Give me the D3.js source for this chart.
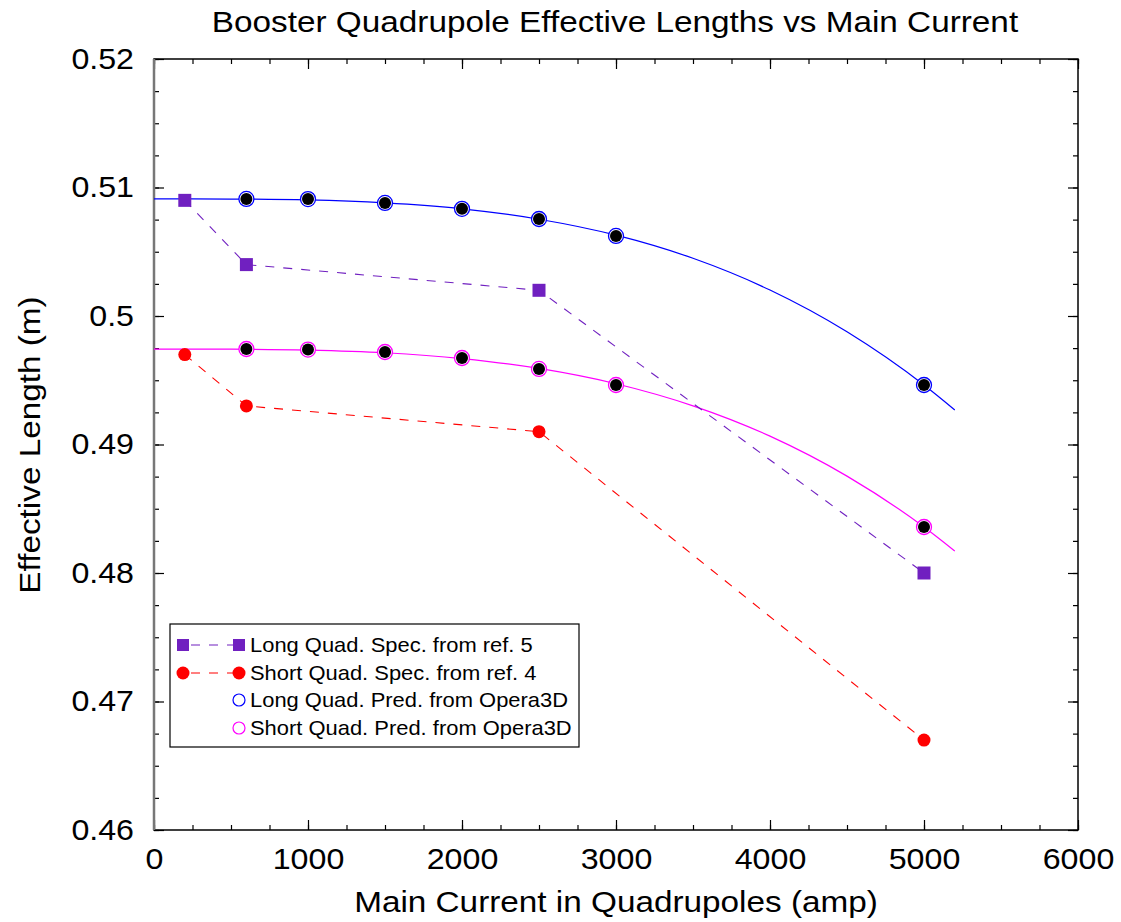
<!DOCTYPE html>
<html>
<head>
<meta charset="utf-8">
<script src="https://cdn.jsdelivr.net/npm/d3@7"></script>
<style>
  body { margin: 0; background: #fff; }
  svg text { font-family: "Liberation Sans", Arial, sans-serif; }
</style>
</head>
<body>
<div class="container"></div>
<script>
// measured series
const longSpecX = [200, 600, 2500, 5000];
const longSpecY = [0.5090, 0.5040, 0.5020, 0.4800];
const shortSpecX = [200, 600, 2500, 5000];
const shortSpecY = [0.4970, 0.4930, 0.4910, 0.4670];

const predX = [600, 1000, 1500, 2000, 2500, 3000, 5000];
const longPredY = [0.50911, 0.50910, 0.50880, 0.50834, 0.50755, 0.50623, 0.49463];
const shortPredY = [0.49743, 0.49739, 0.49720, 0.49673, 0.49588, 0.49463, 0.48358];

// fitted curves
const fitX = [0, 500, 1000, 1500, 2000, 2500, 3000, 3500, 4000, 4500, 5000, 5200];
const longFitY = [0.50911, 0.50910, 0.50903, 0.50880, 0.50834, 0.50753, 0.50629, 0.50449, 0.50202, 0.49877, 0.49463, 0.49269];
const shortFitY = [0.49743, 0.49742, 0.49735, 0.49714, 0.49669, 0.49592, 0.49473, 0.49301, 0.49065, 0.48754, 0.48358, 0.48171];

const xTicks = [0, 1000, 2000, 3000, 4000, 5000, 6000];
const yTicks = [0.46, 0.47, 0.48, 0.49, 0.5, 0.51, 0.52];
const legendLabels = ["Long Quad. Spec. from ref. 5", "Short Quad. Spec. from ref. 4",
                      "Long Quad. Pred. from Opera3D", "Short Quad. Pred. from Opera3D"];

const W = 1121, H = 922;
const margin = {top: 59, right: 43, bottom: 92, left: 154};
const width = W - margin.left - margin.right,
      height = H - margin.top - margin.bottom;

const purple = "#7020c0", red = "#ff0000", blue = "#0000ff", pink = "#ff00ff";
const stretch = 1.11; // the reference lettering is a little wider than Arial

const svg = d3.select(".container").append("svg")
    .attr("width", W).attr("height", H);

const chart = svg.append("g")
    .attr("transform", "translate(" + margin.left + "," + margin.top + ")");

const xScale = d3.scaleLinear().domain([0, 6000]).range([0, width]);
const yScale = d3.scaleLinear().domain([0.46, 0.52]).range([height, 0]);

// ticks, inward on all four sides
function tickAxis(axis, tr, major) {
  const g = chart.append("g").attr("transform", tr).call(axis);
  g.select(".domain").remove();
  g.selectAll(".tick line").attr("stroke", "#000").attr("stroke-width", 1.2);
  if (!major) g.selectAll("text").remove();
  return g;
}
const xMinor = d3.range(0, 6001, 250);
const yMinor = d3.range(0, 25).map(i => 0.46 + i * 0.0025);

tickAxis(d3.axisBottom(xScale).tickValues(xMinor).tickSize(-5).tickFormat(""), "translate(0," + height + ")");
tickAxis(d3.axisTop(xScale).tickValues(xMinor).tickSize(-5).tickFormat(""), "translate(0,0)");
tickAxis(d3.axisLeft(yScale).tickValues(yMinor).tickSize(-5).tickFormat(""), "translate(0,0)");
tickAxis(d3.axisRight(yScale).tickValues(yMinor).tickSize(-5).tickFormat(""), "translate(" + width + ",0)");

const xa = tickAxis(d3.axisBottom(xScale).tickValues(xTicks).tickSize(-10).tickPadding(18).tickFormat(d3.format("d")), "translate(0," + height + ")", true);
xa.selectAll("text").attr("font-size", "29px").attr("fill", "#000")
  .attr("font-family", "Liberation Sans, Arial, sans-serif")
  .attr("transform", "scale(" + stretch + ",1)");
tickAxis(d3.axisTop(xScale).tickValues(xTicks).tickSize(-10).tickFormat(""), "translate(0,0)");
const ya = tickAxis(d3.axisLeft(yScale).tickValues(yTicks).tickSize(-10).tickPadding(18).tickFormat(d => d3.format("")(+d.toFixed(2))), "translate(0,0)", true);
ya.selectAll("text").attr("font-size", "29px").attr("fill", "#000")
  .attr("font-family", "Liberation Sans, Arial, sans-serif")
  .attr("transform", "scale(" + stretch + ",1)");
tickAxis(d3.axisRight(yScale).tickValues(yTicks).tickSize(-10).tickFormat(""), "translate(" + width + ",0)");

// frame
chart.append("rect").attr("width", width).attr("height", height)
    .attr("fill", "none").attr("stroke", "#000").attr("stroke-width", 1.5);
chart.append("line").attr("x1", 0).attr("x2", 0).attr("y1", 0).attr("y2", height)
    .attr("stroke", "#777").attr("stroke-width", 2.5);

// fit curves
const fitLine = d3.line().curve(d3.curveMonotoneX)
    .x(d => xScale(d[0])).y(d => yScale(d[1]));
chart.append("path").datum(fitX.map((x, i) => [x, longFitY[i]]))
    .attr("d", fitLine).attr("fill", "none").attr("stroke", blue).attr("stroke-width", 1.2);
chart.append("path").datum(fitX.map((x, i) => [x, shortFitY[i]]))
    .attr("d", fitLine).attr("fill", "none").attr("stroke", pink).attr("stroke-width", 1.2);

// spec dashed lines
const segLine = d3.line().x(d => xScale(d[0])).y(d => yScale(d[1]));
chart.append("path").datum(longSpecX.map((x, i) => [x, longSpecY[i]]))
    .attr("d", segLine).attr("fill", "none").attr("stroke", purple)
    .attr("stroke-width", 1.1).attr("stroke-dasharray", "9,9");
chart.append("path").datum(shortSpecX.map((x, i) => [x, shortSpecY[i]]))
    .attr("d", segLine).attr("fill", "none").attr("stroke", red)
    .attr("stroke-width", 1.1).attr("stroke-dasharray", "9,9");

// prediction markers
function predMarks(ys, color) {
  const g = chart.append("g");
  g.selectAll("circle.ring").data(predX).enter().append("circle")
    .attr("class", "ring")
    .attr("cx", d => xScale(d)).attr("cy", (d, i) => yScale(ys[i]))
    .attr("r", 7.5).attr("fill", "#fff").attr("stroke", color).attr("stroke-width", 1.3);
  g.selectAll("circle.dot").data(predX).enter().append("circle")
    .attr("class", "dot")
    .attr("cx", d => xScale(d)).attr("cy", (d, i) => yScale(ys[i]))
    .attr("r", 6).attr("fill", "#000");
}
predMarks(longPredY, blue);
predMarks(shortPredY, pink);

// spec markers
chart.selectAll("rect.sq").data(longSpecX).enter().append("rect")
    .attr("class", "sq")
    .attr("x", d => xScale(d) - 6.5).attr("y", (d, i) => yScale(longSpecY[i]) - 6.5)
    .attr("width", 13).attr("height", 13).attr("fill", purple);
chart.selectAll("circle.rd").data(shortSpecX).enter().append("circle")
    .attr("class", "rd")
    .attr("cx", d => xScale(d)).attr("cy", (d, i) => yScale(shortSpecY[i]))
    .attr("r", 6.5).attr("fill", red);

// legend
const leg = svg.append("g").attr("transform", "translate(170,624)");
leg.append("rect").attr("width", 409).attr("height", 123)
    .attr("fill", "#fff").attr("stroke", "#000").attr("stroke-width", 1.2);
const rowY = [21, 49, 76, 104];
legendLabels.forEach((t, i) => {
  leg.append("text").attr("transform", "translate(80," + (rowY[i] + 7) + ") scale(1.07,1)")
     .attr("font-size", "20.5px").attr("fill", "#000").text(t);
});
leg.append("line").attr("x1", 13).attr("x2", 69).attr("y1", rowY[0]).attr("y2", rowY[0])
   .attr("stroke", purple).attr("stroke-width", 1.1).attr("stroke-dasharray", "9,9").attr("stroke-dashoffset", -8);
[13, 69].forEach(x => leg.append("rect").attr("x", x - 6).attr("y", rowY[0] - 6)
   .attr("width", 12).attr("height", 12).attr("fill", purple));
leg.append("line").attr("x1", 13).attr("x2", 69).attr("y1", rowY[1]).attr("y2", rowY[1])
   .attr("stroke", red).attr("stroke-width", 1.1).attr("stroke-dasharray", "9,9").attr("stroke-dashoffset", -8);
[13, 69].forEach(x => leg.append("circle").attr("cx", x).attr("cy", rowY[1])
   .attr("r", 6.5).attr("fill", red));
leg.append("circle").attr("cx", 69).attr("cy", rowY[2]).attr("r", 6)
   .attr("fill", "none").attr("stroke", blue).attr("stroke-width", 1.2);
leg.append("circle").attr("cx", 69).attr("cy", rowY[3]).attr("r", 6)
   .attr("fill", "none").attr("stroke", pink).attr("stroke-width", 1.2);

// titles
function label(txt, x, y, rot) {
  svg.append("text")
     .attr("transform", "translate(" + x + "," + y + ") rotate(" + rot + ") scale(" + stretch + ",1)")
     .attr("text-anchor", "middle").attr("font-size", "30px").attr("fill", "#000")
     .text(txt);
}
label("Booster Quadrupole Effective Lengths vs Main Current", 615, 32, 0);
label("Main Current in Quadrupoles (amp)", 616, 912, 0);
label("Effective Length (m)", 40, 445, -90);
</script>
</body>
</html>
